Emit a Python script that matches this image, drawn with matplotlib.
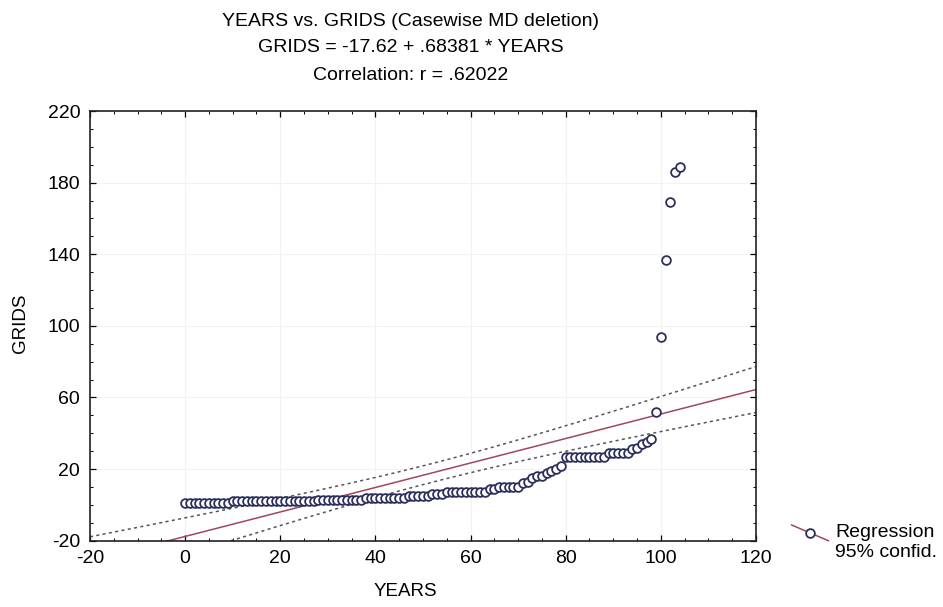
import numpy as np
import matplotlib
matplotlib.use('Agg')
import matplotlib.pyplot as plt
from matplotlib.lines import Line2D

plt.rcParams['font.family'] = ['Liberation Sans', 'DejaVu Sans']
plt.rcParams['axes.unicode_minus'] = False

# data (sorted cases)
years = [0, 1, 2, 3, 4, 5, 6, 7, 8, 9,
         10, 11, 12, 13, 14, 15, 16, 17, 18, 19,
         20, 21, 22, 23, 24, 25, 26, 27, 28, 29,
         30, 31, 32, 33, 34, 35, 36, 37, 38, 39,
         40, 41, 42, 43, 44, 45, 46, 47, 48, 49,
         50, 51, 52, 53, 54, 55, 56, 57, 58, 59,
         60, 61, 62, 63, 64, 65, 66, 67, 68, 69,
         70, 71, 72, 73, 74, 75, 76, 77, 78, 79,
         80, 81, 82, 83, 84, 85, 86, 87, 88, 89,
         90, 91, 92, 93, 94, 95, 96, 97, 98, 99,
         100, 101, 102, 103, 104]
grids = [1, 1, 1, 1, 1, 1, 1, 1, 1, 1,
         2, 2, 2, 2, 2, 2, 2, 2, 2, 2,
         2, 2, 2, 2, 2, 2, 2, 2, 3, 3,
         3, 3, 3, 3, 3, 3, 3, 3, 4, 4,
         4, 4, 4, 4, 4, 4, 4, 5, 5, 5,
         5, 5, 6, 6, 6, 7, 7, 7, 7, 7,
         7, 7, 7, 7, 9, 9, 10, 10, 10, 10,
         10, 12, 13, 15, 16, 16, 18, 19, 20, 22,
         27, 27, 27, 27, 27, 27, 27, 27, 27, 29,
         29, 29, 29, 29, 31, 32, 34, 35, 37, 52,
         94, 137, 169, 186, 189]

INTERCEPT = -17.62
SLOPE = 0.68381
T_CRIT = 1.983

x = np.array(years, dtype=float)
y = np.array(grids, dtype=float)
n = len(x)
resid = y - (INTERCEPT + SLOPE * x)
s = np.sqrt(np.sum(resid ** 2) / (n - 2))
sxx = np.sum((x - x.mean()) ** 2)

xs = np.linspace(-20, 120, 200)
fit = INTERCEPT + SLOPE * xs
half = T_CRIT * s * np.sqrt(1 / n + (xs - x.mean()) ** 2 / sxx)

fig = plt.figure(figsize=(9.43, 6.07), dpi=100)
ax = fig.add_axes([0.0954, 0.1092, 0.7063, 0.7079])

ax.grid(True, color='#f2f2f2', lw=0.8)
ax.set_axisbelow(True)

ax.plot(xs, fit + half, color='#555555', lw=1.1, ls=(0, (2, 2.2)))
ax.plot(xs, fit - half, color='#555555', lw=1.1, ls=(0, (2, 2.2)))
ax.plot(xs, fit, color='#a0485a', lw=1.1)
ax.plot(x, y, 'o', ms=6.3, mfc='white', mec='#2c2f5c', mew=1.3, ls='none')

ax.set_xlim(-20, 120)
ax.set_ylim(-20, 220)
ax.set_xticks(range(-20, 121, 20))
ax.set_yticks(range(-20, 221, 40))
ax.minorticks_on()
ax.tick_params(which='both', direction='in', top=True, right=True)
ax.tick_params(which='major', length=4, width=0.9, labelsize=14, pad=7)
ax.tick_params(which='minor', length=2, width=0.7)
for sp in ax.spines.values():
    sp.set_linewidth(1.2)
    sp.set_color('#222222')

fig.text(411 / 943, 1 - 22 / 607, 'YEARS vs. GRIDS (Casewise MD deletion)',
         ha='center', va='center', fontsize=14)
fig.text(411 / 943, 1 - 48 / 607, 'GRIDS = -17.62 + .68381 * YEARS',
         ha='center', va='center', fontsize=14)
fig.text(411 / 943, 1 - 76 / 607, 'Correlation: r = .62022',
         ha='center', va='center', fontsize=14)
fig.text(405 / 943, 1 - 592 / 607, 'YEARS', ha='center', va='center', fontsize=13.5)
fig.text(20 / 943, 1 - 323 / 607, 'GRIDS', ha='center', va='center',
         rotation=90, fontsize=13.5)

# legend drawn by hand, outside the axes
fig.add_artist(Line2D([0.8395, 0.8784], [0.1351, 0.1092], color='#a0485a',
                      lw=1.1, transform=fig.transFigure))
fig.add_artist(Line2D([0.859], [0.1224], marker='o', ms=6.3, mfc='white',
                      mec='#2c2f5c', mew=1.3, transform=fig.transFigure))
fig.text(0.8855, 0.122, 'Regression', ha='left', va='center', fontsize=14)
fig.text(0.8855, 0.089, '95% confid.', ha='left', va='center', fontsize=14)

fig.savefig('out.png', dpi=100)
